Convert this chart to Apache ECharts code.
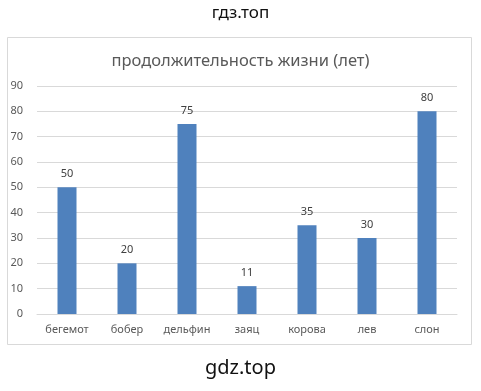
<!DOCTYPE html>
<html><head><meta charset="utf-8">
<script src="https://cdn.jsdelivr.net/npm/echarts@6/dist/echarts.min.js"></script>
<style>html,body{margin:0;padding:0;background:#fff}#c{width:481px;height:391px}</style>
</head><body><div id="c"></div>
<script>
const categories = ['бегемот','бобер','дельфин','заяц','корова','лев','слон'];
const lifespan = [50,20,75,11,35,30,80];
const yTicks = {min:0, max:90, interval:10};
const chartTitle = 'продолжительность жизни (лет)';
const topText = 'гдз.топ';
const bottomText = 'gdz.top';

const chart = echarts.init(document.getElementById('c'), null, {renderer:'canvas'});
chart.setOption({
  animation:false,
  backgroundColor:'#fff',
  graphic:[
    {type:'rect', shape:{x:7.5,y:37.5,width:464,height:307}, style:{fill:'#fff',stroke:'#d9d9d9',lineWidth:1}, z:-1},
    {type:'text', left:'center', top:5, style:{text:topText, font:'17px "Noto Sans", sans-serif', fill:'#111'}},
    {type:'text', left:'center', top:358, style:{text:bottomText, font:'20px "Noto Sans", sans-serif', fill:'#111'}}
  ],
  title:{text:chartTitle, left:'center', top:48, textStyle:{fontSize:16.5, fontWeight:'normal', color:'#595959', fontFamily:'"Noto Sans", sans-serif'}},
  grid:{left:37, right:24, top:86, bottom:77},
  xAxis:{type:'category', data:categories,
    axisLine:{lineStyle:{color:'#d9d9d9'}}, axisTick:{show:false},
    axisLabel:{interval:0, color:'#595959', fontSize:11, margin:10, fontFamily:'"Noto Sans", sans-serif'}},
  yAxis:{type:'value', min:yTicks.min, max:yTicks.max, interval:yTicks.interval,
    axisLine:{show:false}, axisTick:{show:false},
    splitLine:{lineStyle:{color:'#d9d9d9'}},
    axisLabel:{color:'#595959', fontSize:11, margin:14, fontFamily:'"Noto Sans", sans-serif'}},
  series:[{type:'bar', data:lifespan, barWidth:19,
    itemStyle:{color:'#4f81bd'},
    label:{show:true, position:'top', distance:8, color:'#404040', fontSize:11, fontFamily:'"Noto Sans", sans-serif'}}]
});
</script></body></html>
